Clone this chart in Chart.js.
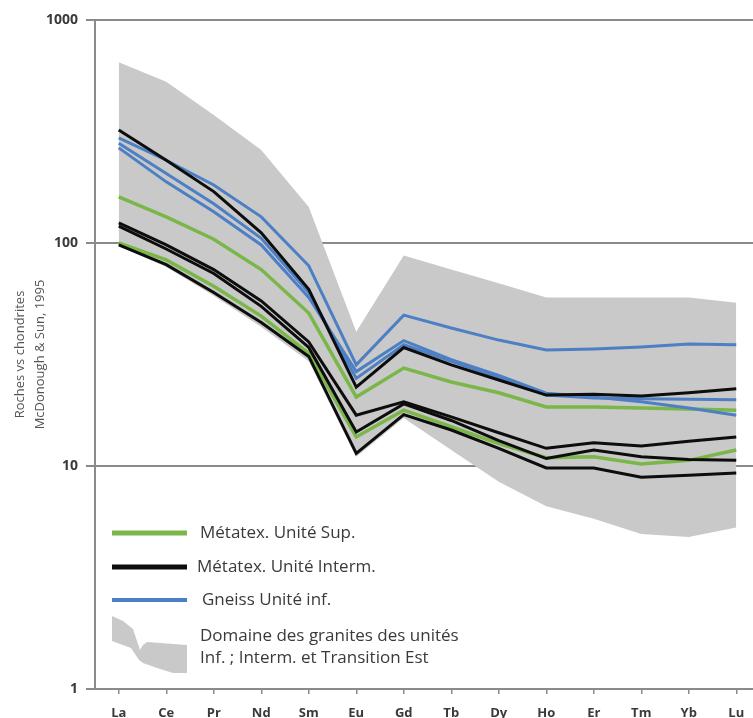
<!DOCTYPE html>
<html>
<head>
<meta charset="utf-8">
<script src="https://cdn.jsdelivr.net/npm/chart.js@4.4.0/dist/chart.umd.min.js"></script>
<style>
    html, body { margin: 0; padding: 0; background: #fff; overflow: hidden; }
    #wrap { position: relative; width: 764px; height: 718px; }
</style>
</head>
<body>
<div id="wrap"><canvas id="reeChart"></canvas></div>
<script>
/* ================= DATA ================= */
const elements = ["La", "Ce", "Pr", "Nd", "Sm", "Eu", "Gd", "Tb", "Dy", "Ho", "Er", "Tm", "Yb", "Lu"];
const yTicks = [1, 10, 100, 1000];

// grey domain (granites)
const domainTop    = [647, 528, 375, 261, 145, 40, 88, 76, 66, 57, 57, 57, 57, 54];
const domainBottom = [97, 78, 58, 42, 29.5, 11, 16.4, 11.8, 8.5, 6.6, 5.8, 4.95, 4.8, 5.3];

// Métatex. Unité Sup. (green)
const supA = [161, 131, 104, 76, 48.5, 20.4, 27.5, 23.8, 21.3, 18.4, 18.4, 18.2, 18, 17.8];
const supB = [100, 84, 64, 47, 32, 13.5, 17.8, 15, 12.6, 10.9, 11, 10.2, 10.6, 11.8];

// Métatex. Unité Interm. (black)
const intA = [321, 235, 170, 111, 62, 22.6, 34, 28.4, 24.3, 20.8, 21, 20.6, 21.3, 22.2];
const intB = [123, 98, 76, 55, 36, 16.9, 19.4, 16.6, 14.1, 12, 12.7, 12.3, 12.9, 13.5];
const intC = [119, 94, 73, 52, 34, 14.2, 19, 16, 13, 10.8, 11.8, 11, 10.7, 10.6];
const intD = [98, 80, 60, 44, 31, 11.4, 17, 14.5, 12, 9.8, 9.8, 8.9, 9.1, 9.3];

// Gneiss Unité inf. (blue)
const infA = [296, 235, 182, 131, 79, 28.4, 47.5, 41.6, 36.7, 33.1, 33.5, 34.2, 35.2, 35];
const infB = [267, 188, 138, 98, 57, 26.5, 36.5, 30, 25.5, 21.2, 20.4, 19.4, 18.2, 16.9];
const infC = [280, 205, 150, 105, 60, 24.7, 35, 29.5, 25, 20.8, 20.2, 20, 19.9, 19.8];

/* ================= STYLE ================= */
const GREEN = "#7ab648";
const BLACK = "#0d0d0d";
const BLUE = "#4d7fc4";
const GREY = "#c9c9c9";
const AXIS = "#8a8a8a";
const TEXT = "#3a3a3a";

function line(data, color, width, order) {
    return {
        data: data,
        borderColor: color,
        borderWidth: width,
        pointRadius: 0,
        fill: false,
        tension: 0,
        order: order
    };
}

/* ================= LEGEND (inside plot) ================= */
const legendPlugin = {
    id: "insideLegend",
    afterDraw(chart) {
        const ctx = chart.ctx;
        ctx.save();
        ctx.lineCap = "butt";

        const rows = [
            { color: GREEN, width: 5, y: 533, x: 200, text: "Métatex. Unité Sup." },
            { color: BLACK, width: 5, y: 567, x: 197, text: "Métatex. Unité Interm." },
            { color: BLUE, width: 4, y: 600, x: 202, text: "Gneiss Unité inf." }
        ];
        ctx.font = '17px "Open Sans"';
        ctx.textBaseline = "middle";
        ctx.fillStyle = TEXT;
        rows.forEach(r => {
            ctx.strokeStyle = r.color;
            ctx.lineWidth = r.width;
            ctx.beginPath();
            ctx.moveTo(112, r.y);
            ctx.lineTo(187, r.y);
            ctx.stroke();
            ctx.fillText(r.text, r.x, r.y);
        });

        // small grey patch
        ctx.fillStyle = GREY;
        ctx.beginPath();
        [[112, 616], [123, 621], [133, 629], [140, 650], [143, 645], [147, 642], [187, 645],
         [187, 673], [173, 673], [157, 668], [143, 663], [139, 660], [131, 648], [112, 641]]
            .forEach((p, i) => i ? ctx.lineTo(p[0], p[1]) : ctx.moveTo(p[0], p[1]));
        ctx.closePath();
        ctx.fill();

        ctx.fillStyle = TEXT;
        ctx.fillText("Domaine des granites des unités", 200, 636);
        ctx.fillText("Inf. ; Interm. et Transition Est", 200, 658);
        ctx.restore();
    }
};

/* ================= CHART ================= */
new Chart(document.getElementById("reeChart"), {
    type: "line",
    data: {
        labels: elements,
        datasets: [
            line(intA, BLACK, 3, 1),
            line(intB, BLACK, 3, 1),
            line(intC, BLACK, 3, 1),
            line(intD, BLACK, 3, 1),
            line(infA, BLUE, 3, 2),
            line(infB, BLUE, 3, 2),
            line(infC, BLUE, 3, 2),
            line(supA, GREEN, 3.5, 3),
            line(supB, GREEN, 3.5, 3),
            {
                data: domainTop,
                borderWidth: 0,
                pointRadius: 0,
                backgroundColor: GREY,
                fill: "+1",
                order: 10
            },
            {
                data: domainBottom,
                borderWidth: 0,
                pointRadius: 0,
                fill: false,
                order: 10
            }
        ]
    },
    options: {
        responsive: true,
        maintainAspectRatio: false,
        animation: false,
        layout: { padding: { top: 20, right: 4, left: 10, bottom: 0 } },
        plugins: {
            legend: { display: false },
            tooltip: { enabled: false }
        },
        scales: {
            x: {
                offset: true,
                grid: {
                    display: true,
                    drawOnChartArea: false,
                    tickLength: 5,
                    color: AXIS,
                    lineWidth: 1.5
                },
                border: { display: true, color: AXIS, width: 2 },
                ticks: {
                    color: TEXT,
                    font: { family: "Open Sans", size: 13, weight: "bold" },
                    padding: 11,
                    maxRotation: 0
                },
                afterFit(scale) { scale.height = 29; }
            },
            y: {
                type: "logarithmic",
                min: 1,
                max: 1000,
                afterBuildTicks(scale) {
                    scale.ticks = yTicks.map(v => ({ value: v }));
                },
                afterFit(scale) { scale.width = 85; },
                grid: {
                    color: AXIS,
                    lineWidth: 2,
                    tickLength: 9
                },
                border: { display: true, color: AXIS, width: 2 },
                ticks: {
                    color: TEXT,
                    font: { family: "Open Sans", size: 14, weight: "bold" },
                    padding: 8,
                    callback: v => String(v)
                },
                title: {
                    display: true,
                    text: ["Roches vs chondrites", "McDonough & Sun, 1995"],
                    color: "#555",
                    font: { family: "Open Sans", size: 13, lineHeight: 1.55 },
                    padding: { top: 0, bottom: 0 }
                }
            }
        }
    },
    plugins: [legendPlugin]
});
</script>
</body>
</html>
